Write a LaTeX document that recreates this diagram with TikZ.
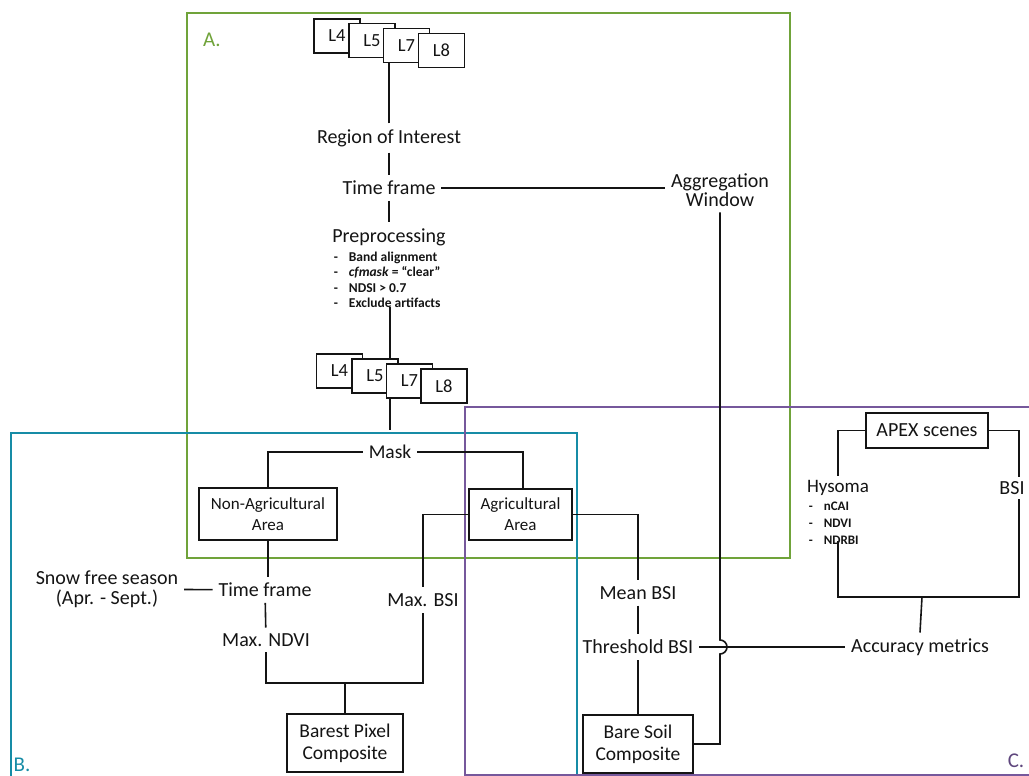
\documentclass[tikz,border=0pt]{standalone}
\usepackage{fontspec}
\setmainfont{Carlito}
\definecolor{frameA}{RGB}{112,163,58}
\definecolor{frameB}{RGB}{22,140,166}
\definecolor{frameC}{RGB}{118,88,156}
\definecolor{ink}{RGB}{20,20,20}

\begin{document}
\begin{tikzpicture}[x=1pt,y=-1pt,line width=1.6pt,
  lbl/.style={inner sep=2pt,outer sep=4pt,text=ink,align=center,font=\fontsize{20}{22}\selectfont},
  tile/.style={draw=ink,fill=white,line width=1.3pt,minimum width=46pt,minimum height=34pt,inner sep=0pt,text=ink,font=\fontsize{18.5}{20}\selectfont},
  areabox/.style={draw=ink,line width=1.3pt,inner sep=0pt,align=center,text=ink,font=\fontsize{17}{21}\selectfont},
  items/.style={inner sep=0pt,align=left,text=ink,font=\bfseries\fontsize{13.5}{15.5}\selectfont},
  wire/.style={draw=ink,line width=1.6pt},
  frame/.style={line width=2.8pt},
  tag/.style={inner sep=0pt,font=\fontsize{21}{24}\selectfont}]
\path[use as bounding box] (0,0) rectangle (1029,776);
% section frames
\draw[frame,frameA] (187,13) rectangle (790,558);
\draw[frame,frameB] (11,433) rectangle (577,800);
\draw[frame,frameC] (465,407) rectangle (1050,775);
\node[tag,text=frameA] (tagA) at (212,40) {A.};
\node[tag,text=frameB] (tagB) at (22,765) {B.};
\node[tag,text=frameC!80!black] (tagC) at (1016,761) {C.};
% A. landsat input and preprocessing
\node[tile] (L4t) at (337,36) {L4};
\node[tile] (L5t) at (372,40.5) {L5};
\node[tile] (L7t) at (406.5,45.5) {L7};
\node[tile] (L8t) at (441.5,50.5) {L8};
\node[lbl] (roi) at (389,138) {Region of Interest};
\node[lbl] (tfA) at (389,188) {Time frame};
\node[lbl] (agg) at (720,190) {Aggregation\\[-3pt]Window};
\node[lbl] (prep) at (389,237) {Preprocessing};
\node[items,anchor=west] (preplist) at (333,280) {-\hspace{11pt}Band alignment\\-\hspace{11pt}\textit{cfmask} = ``clear''\\-\hspace{11pt}NDSI > 0.7\\-\hspace{11pt}Exclude artifacts};
\node[tile] (L4b) at (339.5,371) {L4};
\node[tile] (L5b) at (375,376) {L5};
\node[tile] (L7b) at (409.5,381) {L7};
\node[tile] (L8b) at (444,386) {L8};
\node[lbl,font=\fontsize{19.5}{22}\selectfont] (mask) at (390,452) {Mask};
\node[areabox,minimum width=138pt,minimum height=52pt] (nonag) at (268,514) {Non-Agricultural\\Area};
\node[areabox,minimum width=103pt,minimum height=51pt] (ag) at (520.5,514.5) {Agricultural\\Area};
% B. barest pixel branch
\node[lbl] (snow) at (107,589) {Snow free season\\[-2pt](Apr. - Sept.)};
\node[lbl] (tfB) at (265,590) {Time frame};
\node[lbl] (maxndvi) at (266,640) {Max. NDVI};
\node[lbl] (maxbsi) at (423,600) {Max. BSI};
\coordinate (join) at (345,683);
\node[areabox,minimum width=116pt,minimum height=58pt,font=\fontsize{19.5}{22}\selectfont] (bpc) at (345,743) {Barest Pixel\\Composite};
% C. bare soil branch and validation
\node[lbl] (mean) at (638,593) {Mean BSI};
\node[lbl] (thr) at (638,647) {Threshold BSI};
\node[areabox,minimum width=110pt,minimum height=58pt,font=\fontsize{19.5}{22}\selectfont] (bsc) at (638,744) {Bare Soil\\Composite};
\node[areabox,minimum width=122pt,minimum height=35pt,font=\fontsize{20}{22}\selectfont] (apex) at (927,430.5) {APEX scenes};
\node[lbl,outer sep=2pt,font=\fontsize{19}{22}\selectfont] (hys) at (838,488) {Hysoma};
\node[items,anchor=north west,font=\bfseries\fontsize{13}{17}\selectfont] (hyslist) at (808,501) {-\hspace{11pt}nCAI\\-\hspace{11pt}NDVI\\-\hspace{11pt}NDRBI};
\node[lbl,outer sep=2pt] (bsi) at (1012,488) {BSI};
\coordinate (brk) at (922,597);
\node[lbl] (acc) at (920,647) {Accuracy metrics};
% connectors
\draw[wire] (roi.north) -- (roi.north |- L7t.south);
\draw[wire] (roi) -- (tfA);
\draw[wire] (tfA) -- (agg.west |- tfA);
\draw[wire] (tfA) -- (prep);
\draw[wire,shorten <=-2pt] (preplist.south -| mask) -- (L5b.north -| mask);
\draw[wire,shorten >=9pt] (L7b.south -| mask) -- (mask.north);
\draw[wire] (mask.west) -| (nonag.north);
\draw[wire] (mask.east) -| ([xshift=2.5pt]ag.north);
\draw[wire] (nonag.south) -- (nonag.south |- tfB.north);
\draw[wire] (snow) -- (tfB);
\draw[wire] (tfB) -- (maxndvi);
\draw[wire] (ag.west) -| (maxbsi.north);
\draw[wire] (maxndvi.south) -- (maxndvi.south |- join) -- (maxbsi.south |- join) -- (maxbsi.south);
\draw[wire] (join) -- (bpc.north);
\draw[wire] (ag.east) -| (mean.north);
\draw[wire] (mean) -- (thr);
\draw[wire] (thr) -- (bsc);
\draw[wire] (thr) -- (acc);
\coordinate (hop) at (agg.south |- thr);
\draw[wire] (agg.south) -- ([yshift=7pt]hop) arc[start angle=90,end angle=-90,radius=7pt] -- (agg.south |- bsc.east) -- (bsc.east);
\draw[wire] (apex.west) -| (hys.north);
\draw[wire] (apex.east) -| ([xshift=7pt]bsi.north);
\draw[wire,shorten <=-4pt] (hyslist.south -| hys) -- (hys |- brk) -- ([xshift=7pt]bsi.center |- brk) -- ([xshift=7pt]bsi.south);
\draw[wire] (brk) -- (acc.north);
\end{tikzpicture}
\end{document}
